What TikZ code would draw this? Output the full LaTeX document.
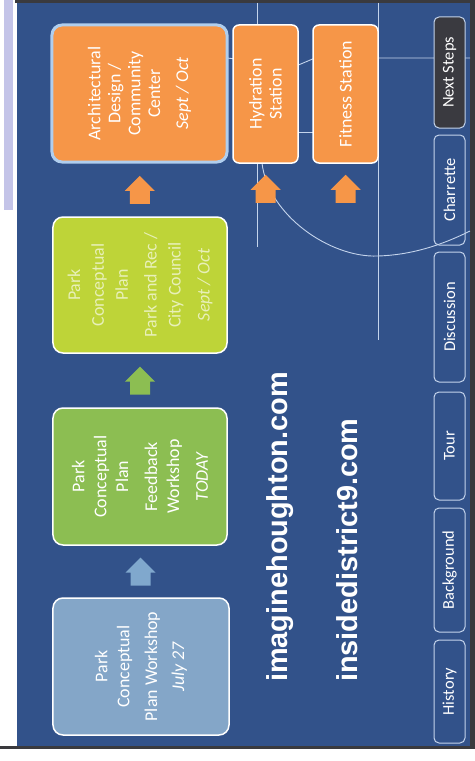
\documentclass[tikz,border=0pt]{standalone}
\usepackage{fontspec}
\setmainfont{Carlito}
\newfontfamily\urlfont{Liberation Sans}
\usetikzlibrary{calc}

\definecolor{slidenavy}{RGB}{50,82,138}
\definecolor{scrollbar}{RGB}{196,196,232}
\definecolor{framegray}{RGB}{58,58,62}
\definecolor{maplinecol}{RGB}{196,212,236}
\definecolor{workshopblue}{RGB}{132,166,200}
\definecolor{arrowblue}{RGB}{128,168,205}
\definecolor{feedbackgreen}{RGB}{140,190,82}
\definecolor{councilyellow}{RGB}{190,212,56}
\definecolor{designorange}{RGB}{246,150,72}
\definecolor{selectblue}{RGB}{176,206,238}
\definecolor{nextgray}{RGB}{58,58,64}

\tikzset{
  slidebox/.style={rotate=90, rounded corners=10bp, draw=white, line width=1.5bp,
    inner sep=0pt, text=white, align=center, font=\fontsize{18}{20}\selectfont},
  stationbox/.style={slidebox, rounded corners=6bp, fill=designorange},
  tabbox/.style={rotate=90, rounded corners=5bp, draw=maplinecol, line width=1bp,
    minimum height=31bp, inner sep=0pt, text=white, font=\fontsize{16.5}{18}\selectfont},
  urltext/.style={rotate=90, anchor=base west, inner sep=0pt, text=white,
    font=\urlfont\bfseries\fontsize{29}{32}\selectfont},
  mapline/.style={draw=maplinecol, line width=0.9bp},
  blockarrow/.pic={\path[pic actions] (0,-14) -- (15,1) -- (10,1) -- (10,14)
    -- (-10,14) -- (-10,1) -- (-15,1) -- cycle;}
}

\begin{document}
\begin{tikzpicture}[x=1bp, y=-1bp]
\useasboundingbox (0,0) rectangle (475,761);
% page, scroll bar and slide frame
\fill[white] (0,0) rectangle (475,761);
\fill[scrollbar] (4,0) rectangle (13,210);
\fill[slidenavy] (17,3) rectangle (470,746);
\fill[framegray] (15,0) rectangle (475,3);
\fill[framegray] (470,0) rectangle (475,749);
\fill[framegray] (0,746) rectangle (475,749);
% faint map lines behind the boxes
\draw[mapline] (257,3) -- (257,247);
\draw[mapline] (378,3) -- (378,340);
\draw[mapline] (227,58) -- (296,66) -- (315,58) -- (470,58);
\draw[mapline] (298,132) -- (313,132);
\draw[mapline] (262,163) .. controls (268,215) and (330,258) .. (378,256)
  .. controls (410,255) and (440,246) .. (470,231);
% schedule boxes, bottom to top
\node[slidebox, fill=workshopblue, minimum width=137bp, minimum height=176bp,
  font=\fontsize{18}{22}\selectfont] (workshop) at (141,666.5)
  {Park\\Conceptual\\[6bp]Plan Workshop\\[5bp]\textit{July 27}};
\node[slidebox, fill=feedbackgreen, minimum width=137bp, minimum height=174bp,
  font=\fontsize{18}{22}\selectfont] (feedback) at (140,476.5)
  {Park\\Conceptual\\Plan\\[7bp]Feedback\\Workshop\\[7bp]\textit{TODAY}};
\node[slidebox, fill=councilyellow, text=councilyellow!35!white, minimum width=136bp,
  minimum height=174bp, font=\fontsize{18}{24}\selectfont] (council) at (140,285)
  {Park\\Conceptual\\Plan\\[5bp]Park and Rec /\\City Council\\[5bp]\textit{Sept / Oct}};
\node[slidebox, fill=designorange, draw=selectblue, line width=3bp, minimum width=137bp,
  minimum height=175bp] (design) at (139.5,93.5)
  {Architectural\\Design /\\Community\\Center\\[8bp]\textit{Sept / Oct}};
\node[stationbox, minimum width=138bp, minimum height=65bp] (hydration) at (265.5,94)
  {Hydration\\Station};
\node[stationbox, minimum width=138bp, minimum height=65bp] (fitness) at (345.5,94)
  {Fitness Station};
% block arrows
\pic[fill=arrowblue] at ($(workshop.east)!0.5!(feedback.west)$) {blockarrow};
\pic[fill=feedbackgreen] at ($(feedback.east)!0.5!(council.west)$) {blockarrow};
\pic[fill=designorange] at ($(council.east)!0.5!(design.west)$) {blockarrow};
\pic[fill=designorange] at ($(hydration.west)+(0,25)$) {blockarrow};
\pic[fill=designorange] at ($(fitness.west)+(0,25)$) {blockarrow};
% web addresses
\node[urltext] (imagine) at (287,682) {imaginehoughton.com};
\node[urltext] (inside) at (357,682) {insidedistrict9.com};
% navigation tabs
\node[tabbox, fill=nextgray, minimum width=111bp] (nextsteps) at (449.5,72.5) {Next Steps};
\node[tabbox, minimum width=110bp] (charrette) at (449.5,190) {Charrette};
\node[tabbox, minimum width=130bp] (discussion) at (449.5,317) {Discussion};
\node[tabbox, minimum width=108bp] (tour) at (449.5,446) {Tour};
\node[tabbox, minimum width=124bp] (background) at (449.5,570) {Background};
\node[tabbox, minimum width=103bp] (history) at (449.5,691.5) {History};
\end{tikzpicture}
\end{document}
